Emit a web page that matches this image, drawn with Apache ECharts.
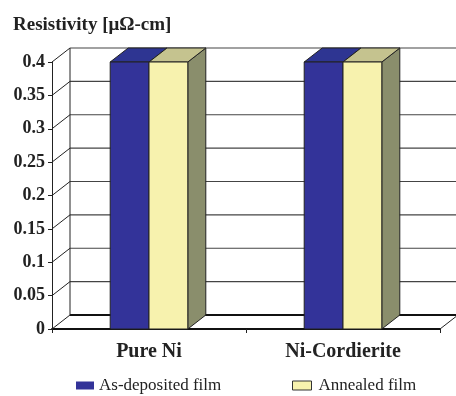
<!DOCTYPE html>
<html>
<head>
<meta charset="utf-8">
<script src="https://cdn.jsdelivr.net/npm/echarts@6/dist/echarts.min.js"></script>
<style>
  html, body { margin: 0; padding: 0; background: #fff; }
  #chart { width: 456px; height: 396px; }
</style>
</head>
<body>
<div id="chart"></div>
<script>
const categories = ['Pure Ni', 'Ni-Cordierite'];
const asDeposited = [0.4, 0.4];
const annealed = [0.4, 0.4];
const yTicks = [0, 0.05, 0.1, 0.15, 0.2, 0.25, 0.3, 0.35, 0.4];

// 3D depth offset
const DX = 18;
const DY = -14;
const FONT = 'Liberation Serif, Times New Roman, serif';

const chart = echarts.init(document.getElementById('chart'));

function wallItem(params, api) {
  const cs = params.coordSys;
  const v = api.value(1);
  const y = api.coord([0, v])[1];
  const left = cs.x;
  const right = cs.x + cs.width;
  const children = [];
  const isFloor = v === 0;
  children.push({
    type: 'line',
    shape: { x1: left, y1: y, x2: left + DX, y2: y + DY },
    style: { stroke: '#222', lineWidth: 1 }
  });
  children.push({
    type: 'line',
    shape: { x1: left + DX, y1: y + DY, x2: right + DX, y2: y + DY },
    style: { stroke: isFloor ? '#111' : '#444', lineWidth: isFloor ? 2 : 1.2 }
  });
  if (isFloor) {
    children.push({
      type: 'line',
      shape: { x1: right, y1: y, x2: right + DX, y2: y + DY },
      style: { stroke: '#222', lineWidth: 1 }
    });
  }
  if (params.dataIndex === yTicks.length - 1) {
    const y0 = api.coord([0, 0])[1];
    children.push({
      type: 'line',
      shape: { x1: left + DX, y1: y + DY, x2: left + DX, y2: y0 + DY },
      style: { stroke: '#222', lineWidth: 1 }
    });
  }
  return { type: 'group', children: children };
}

function barRenderer(shift, front, top, side) {
  return function (params, api) {
    const c = api.coord([api.value(0), api.value(1)]);
    const base = api.coord([api.value(0), 0]);
    const band = api.size([1, 0])[0];
    const w = band * 0.2;
    const x0 = c[0] + shift * w;
    const y1 = c[1];
    const y0 = base[1];
    const edge = { stroke: '#222', lineWidth: 1 };
    return {
      type: 'group',
      children: [
        {
          type: 'polygon',
          shape: { points: [[x0 + w, y1], [x0 + w + DX, y1 + DY], [x0 + w + DX, y0 + DY], [x0 + w, y0]] },
          style: Object.assign({ fill: side }, edge)
        },
        {
          type: 'polygon',
          shape: { points: [[x0, y1], [x0 + DX, y1 + DY], [x0 + w + DX, y1 + DY], [x0 + w, y1]] },
          style: Object.assign({ fill: top }, edge)
        },
        {
          type: 'rect',
          shape: { x: x0, y: y1, width: w, height: y0 - y1 },
          style: Object.assign({ fill: front }, edge)
        }
      ]
    };
  };
}

const option = {
  backgroundColor: '#fff',
  animation: false,
  title: {
    text: 'Resistivity [μΩ-cm]',
    left: 8,
    top: 11,
    textStyle: { fontFamily: FONT, fontWeight: 'bold', fontSize: 19, color: '#222' }
  },
  legend: [
    {
      left: 71,
      top: 372,
      icon: 'rect',
      itemWidth: 18,
      itemHeight: 8,
      textStyle: { fontFamily: FONT, fontSize: 17, color: '#222' },
      data: [{ name: 'As-deposited film', itemStyle: { color: '#333399', borderWidth: 0 } }]
    },
    {
      left: 287,
      top: 372,
      icon: 'rect',
      itemWidth: 19,
      itemHeight: 9,
      textStyle: { fontFamily: FONT, fontSize: 17, color: '#222', padding: [0, 0, 0, 2] },
      data: [{ name: 'Annealed film', itemStyle: { color: '#F7F2AE', borderColor: '#333', borderWidth: 1 } }]
    }
  ],
  grid: { left: 52, right: 16, top: 62, bottom: 67 },
  xAxis: {
    type: 'category',
    data: categories,
    axisLine: { show: true, lineStyle: { color: '#111', width: 2 } },
    axisTick: { show: true, length: 4, lineStyle: { color: '#222' } },
    axisLabel: { fontFamily: FONT, fontWeight: 'bold', fontSize: 20, color: '#222', margin: 13 },
    splitLine: { show: false }
  },
  yAxis: {
    type: 'value',
    min: 0,
    max: 0.4,
    interval: 0.05,
    axisLine: { show: true, lineStyle: { color: '#222', width: 1 } },
    axisTick: { show: true, length: 4, lineStyle: { color: '#222' } },
    axisLabel: { fontFamily: FONT, fontWeight: 'bold', fontSize: 18, color: '#222', margin: 7 },
    splitLine: { show: false }
  },
  series: [
    {
      name: 'wall',
      type: 'custom',
      clip: false,
      silent: true,
      z: 1,
      renderItem: wallItem,
      data: yTicks.map(v => [0, v])
    },
    {
      name: 'As-deposited film',
      type: 'custom',
      clip: false,
      z: 3,
      itemStyle: { color: '#333399' },
      renderItem: barRenderer(-1, '#333399', '#2E3592', '#262A70'),
      data: asDeposited.map((v, i) => [i, v])
    },
    {
      name: 'Annealed film',
      type: 'custom',
      clip: false,
      z: 4,
      itemStyle: { color: '#F7F2AE' },
      renderItem: barRenderer(0, '#F7F2AE', '#C5C38F', '#8A8E6C'),
      data: annealed.map((v, i) => [i, v])
    }
  ]
};

chart.setOption(option);
</script>
</body>
</html>
